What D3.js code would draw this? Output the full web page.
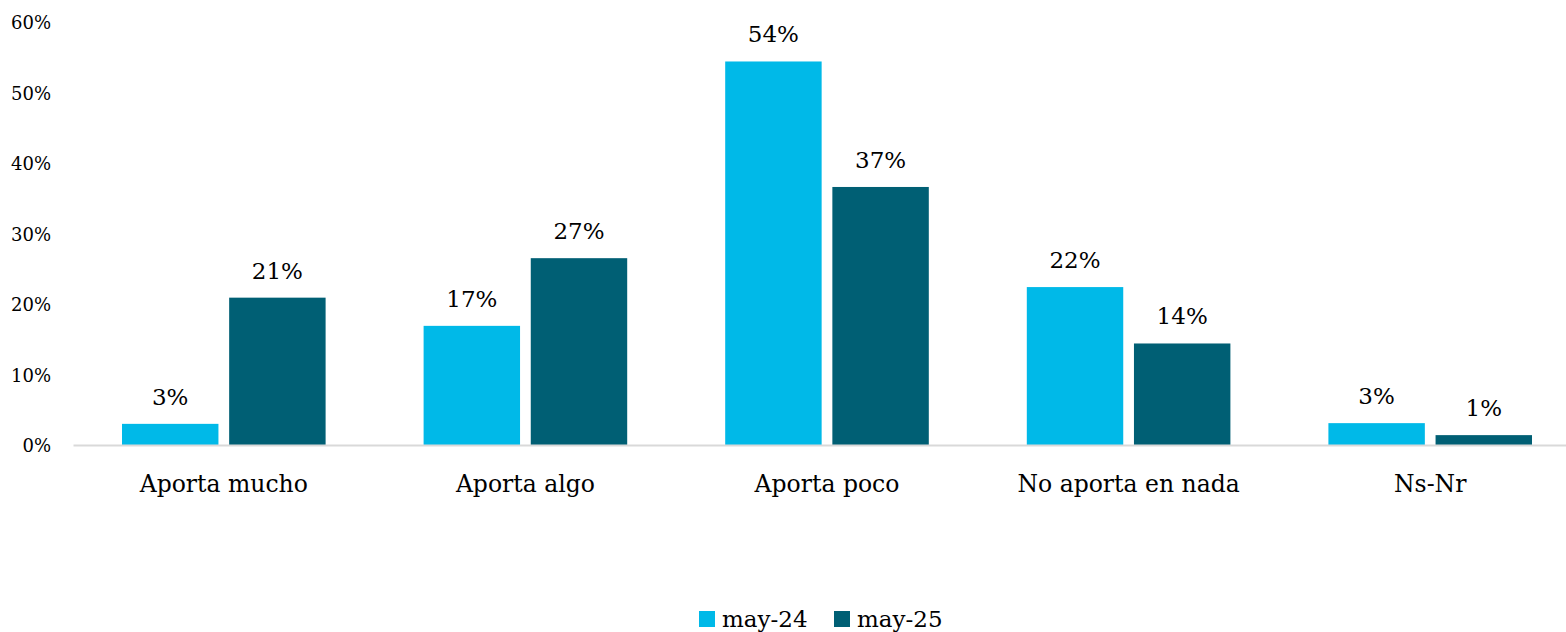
<!DOCTYPE html>
<html><head><meta charset="utf-8">
<script src="https://cdn.jsdelivr.net/npm/d3@7"></script>
<style>body{margin:0;background:#fff}svg{display:block}text{font-family:"DejaVu Serif",serif;fill:#000}</style>
</head><body><svg id="c" width="1566" height="632"></svg>
<script>
const categories = ["Aporta mucho","Aporta algo","Aporta poco","No aporta en nada","Ns-Nr"];
const seriesNames = ["may-24","may-25"];
const may24 = [3.0,16.9,54.4,22.4,3.1];
const may25 = [20.9,26.5,36.6,14.4,1.4];
const yTicks = [0,10,20,30,40,50,60];
const colors = ["#00b9e8","#005f74"];
const FONT = "'DejaVu Serif',serif";

const svg = d3.select("#c");
const x0 = d3.scaleBand().domain(categories).range([73,1581]).paddingInner(0).paddingOuter(0);
const x1 = d3.scaleBand().domain(seriesNames).range([49, x0.bandwidth()-49]).paddingInner(0.1);
const y = d3.scaleLinear().domain([0,60]).range([445,22]);

const yAxis = d3.axisLeft(y).tickValues(yTicks).tickFormat(d=>d+"%").tickSize(0).tickPadding(0);
const gy = svg.append("g").attr("transform","translate(51,0)").call(yAxis);
gy.select(".domain").remove();
gy.selectAll("text").style("font-size","18px").attr("dy","0.38em").style("font-family",FONT);

const data = categories.map((c,i)=>({cat:c, vals:[may24[i],may25[i]]}));
const g = svg.append("g");
const groups = g.selectAll("g.grp").data(data).join("g").attr("transform",d=>`translate(${x0(d.cat)},0)`);
groups.selectAll("rect").data(d=>d.vals.map((v,j)=>({s:seriesNames[j],v,j})))
  .join("rect").attr("x",d=>x1(d.s)).attr("width",x1.bandwidth())
  .attr("y",d=>y(d.v)).attr("height",d=>y(0)-y(d.v)).attr("fill",d=>colors[d.j]);
groups.selectAll("text.lbl").data(d=>d.vals.map((v,j)=>({s:seriesNames[j],v,j})))
  .join("text").attr("class","lbl").attr("x",d=>x1(d.s)+x1.bandwidth()/2).attr("y",d=>y(d.v)-19)
  .attr("text-anchor","middle").style("font-size","23px").text(d=>Math.round(d.v)+"%");

const xAxis = d3.axisBottom(x0).tickSize(0).tickPadding(0);
const gx = svg.append("g").attr("transform","translate(0,445)").call(xAxis);
gx.select(".domain").attr("stroke","#d9d9d9").attr("stroke-width",2);
gx.selectAll("text").style("font-size","23.5px").attr("dy","0").attr("y",47).style("font-family",FONT);

const leg = svg.append("g");
const legX = [699,834];
seriesNames.forEach((s,i)=>{
  leg.append("rect").attr("x",legX[i]).attr("y",611).attr("width",16).attr("height",16).attr("fill",colors[i]);
  leg.append("text").attr("x",legX[i]+23).attr("y",627).style("font-size","23px").text(s);
});
</script></body></html>
